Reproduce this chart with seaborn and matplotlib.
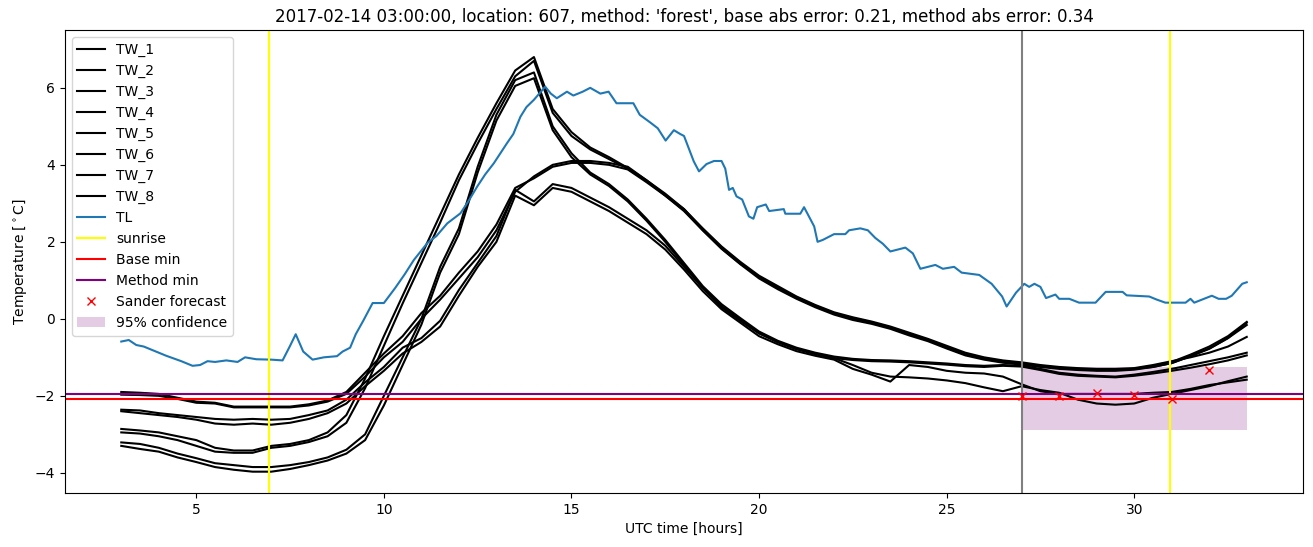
import numpy as np
import pandas as pd
import matplotlib
matplotlib.use("Agg")
import matplotlib.pyplot as plt
import seaborn as sns

# time grid (UTC hours)
hours = np.arange(3.0, 33.5, 0.5)

tw_1 = [-1.90, -1.92, -1.95, -2.05, -2.15, -2.18, -2.28, -2.28, -2.28, -2.28, -2.22, -2.12, -1.90,
        -1.40, -0.90, -0.45, 0.15, 0.60, 1.20, 1.75, 2.45, 3.40, 3.65, 3.95, 4.05, 4.05, 4.00, 3.88,
        3.55, 3.20, 2.80, 2.30, 1.83, 1.43, 1.10, 0.82, 0.56, 0.34, 0.15, 0.02, -0.09, -0.22, -0.39,
        -0.55, -0.74, -0.92, -1.03, -1.10, -1.16, -1.22, -1.27, -1.30, -1.33, -1.33, -1.30, -1.25,
        -1.15, -0.97, -0.78, -0.50, -0.10]
tw_2 = [-1.97, -1.98, -2.00, -2.08, -2.18, -2.20, -2.30, -2.30, -2.30, -2.30, -2.25, -2.15, -1.95,
        -1.50, -1.00, -0.60, 0.00, 0.50, 1.05, 1.60, 2.30, 3.30, 3.70, 4.00, 4.10, 4.10, 4.05, 3.95,
        3.60, 3.25, 2.85, 2.35, 1.88, 1.48, 1.12, 0.85, 0.58, 0.36, 0.17, 0.04, -0.07, -0.20, -0.36,
        -0.52, -0.70, -0.88, -1.00, -1.08, -1.13, -1.20, -1.25, -1.28, -1.30, -1.30, -1.28, -1.20,
        -1.10, -1.00, -0.88, -0.72, -0.47]
tw_3 = [-2.36, -2.38, -2.45, -2.50, -2.55, -2.60, -2.62, -2.60, -2.62, -2.60, -2.50, -2.38, -2.10,
        -1.65, -1.25, -0.75, -0.50, -0.05, 0.75, 1.45, 2.15, 3.35, 3.05, 3.50, 3.40, 3.15, 2.90, 2.60,
        2.30, 1.90, 1.35, 0.80, 0.30, -0.05, -0.38, -0.60, -0.78, -0.90, -1.02, -1.20, -1.40, -1.50,
        -1.52, -1.55, -1.60, -1.67, -1.78, -1.88, -1.75, -1.85, -1.92, -2.10, -2.20, -2.23, -2.20,
        -2.05, -1.95, -1.85, -1.75, -1.62, -1.50]
tw_4 = [-2.40, -2.45, -2.50, -2.55, -2.62, -2.72, -2.75, -2.72, -2.75, -2.70, -2.60, -2.45, -2.20,
        -1.75, -1.35, -0.90, -0.60, -0.20, 0.60, 1.35, 2.00, 3.20, 2.95, 3.40, 3.30, 3.05, 2.80, 2.50,
        2.20, 1.80, 1.28, 0.72, 0.25, -0.10, -0.45, -0.66, -0.84, -0.96, -1.06, -1.30, -1.45, -1.63,
        -1.20, -1.25, -1.35, -1.40, -1.42, -1.50, -1.70, -1.88, -1.95, -1.95, -1.95, -1.95, -1.95,
        -1.92, -1.90, -1.82, -1.72, -1.65, -1.58]
tw_5 = [-2.86, -2.90, -2.95, -3.05, -3.15, -3.35, -3.42, -3.42, -3.30, -3.25, -3.15, -2.95, -2.50,
        -1.55, -0.45, 0.60, 1.65, 2.70, 3.75, 4.70, 5.60, 6.45, 6.80, 5.45, 4.85, 4.45, 4.20, 3.92,
        3.60, 3.22, 2.85, 2.32, 1.85, 1.45, 1.08, 0.80, 0.55, 0.33, 0.14, 0.00, -0.10, -0.23, -0.40,
        -0.55, -0.75, -0.93, -1.04, -1.12, -1.17, -1.23, -1.28, -1.31, -1.33, -1.32, -1.30, -1.22,
        -1.12, -0.93, -0.72, -0.45, -0.08]
tw_6 = [-2.95, -2.98, -3.05, -3.15, -3.30, -3.45, -3.48, -3.48, -3.35, -3.30, -3.20, -3.05, -2.70,
        -1.80, -0.70, 0.40, 1.45, 2.50, 3.60, 4.55, 5.45, 6.30, 6.70, 5.35, 4.75, 4.40, 4.15, 3.90,
        3.58, 3.20, 2.82, 2.30, 1.82, 1.42, 1.05, 0.77, 0.52, 0.30, 0.11, -0.03, -0.13, -0.26, -0.43,
        -0.58, -0.77, -0.95, -1.06, -1.14, -1.19, -1.25, -1.30, -1.33, -1.35, -1.35, -1.32, -1.25,
        -1.15, -0.97, -0.77, -0.50, -0.16]
tw_7 = [-3.21, -3.25, -3.35, -3.50, -3.62, -3.75, -3.80, -3.85, -3.85, -3.80, -3.72, -3.60, -3.40,
        -3.00, -2.00, -1.00, 0.00, 1.35, 2.35, 3.95, 5.30, 6.20, 6.40, 5.00, 4.30, 3.80, 3.50, 3.10,
        2.60, 2.05, 1.45, 0.85, 0.38, 0.02, -0.33, -0.57, -0.75, -0.88, -0.98, -1.04, -1.07, -1.08,
        -1.10, -1.13, -1.16, -1.20, -1.22, -1.20, -1.22, -1.30, -1.40, -1.45, -1.48, -1.50, -1.45,
        -1.38, -1.30, -1.20, -1.10, -1.00, -0.88]
tw_8 = [-3.30, -3.38, -3.45, -3.60, -3.72, -3.85, -3.92, -3.97, -3.97, -3.90, -3.80, -3.68, -3.50,
        -3.15, -2.25, -1.20, -0.15, 1.20, 2.20, 3.80, 5.15, 6.05, 6.25, 4.90, 4.20, 3.75, 3.45, 3.05,
        2.55, 2.00, 1.40, 0.80, 0.33, -0.02, -0.37, -0.61, -0.79, -0.92, -1.02, -1.07, -1.10, -1.11,
        -1.13, -1.16, -1.19, -1.23, -1.25, -1.22, -1.24, -1.33, -1.43, -1.48, -1.50, -1.52, -1.48,
        -1.42, -1.35, -1.27, -1.18, -1.08, -0.95]

tl_hours = [3.0, 3.2, 3.4, 3.6, 3.8, 4.2, 4.6, 4.9, 5.1, 5.3, 5.5, 5.8, 6.1, 6.3, 6.6, 7.0, 7.3,
            7.5, 7.65, 7.85, 8.1, 8.4, 8.75, 8.9, 9.1, 9.25, 9.45, 9.7, 10.0, 10.3, 10.55, 10.8,
            11.16, 11.4, 11.69, 12.04, 12.25, 12.49, 12.7, 12.93, 13.28, 13.45, 13.64, 13.8, 14.0,
            14.3, 14.45, 14.61, 14.88, 15.05, 15.3, 15.5, 15.77, 15.99, 16.2, 16.65, 16.82, 17.1,
            17.3, 17.51, 17.73, 17.9, 18.0, 18.26, 18.4, 18.6, 18.8, 19.0, 19.1, 19.2, 19.3, 19.4,
            19.55, 19.73, 19.85, 19.95, 20.18, 20.27, 20.66, 20.7, 21.1, 21.2, 21.47, 21.56, 21.7,
            22.0, 22.3, 22.4, 22.7, 22.9, 23.1, 23.3, 23.5, 23.7, 23.9, 24.1, 24.3, 24.5, 24.7,
            24.9, 25.2, 25.4, 25.87, 26.2, 26.48, 26.6, 26.85, 27.07, 27.2, 27.34, 27.5, 27.65,
            27.9, 28.0, 28.27, 28.53, 28.97, 29.24, 29.69, 29.8, 30.4, 30.6, 30.83, 31.37, 31.5,
            31.6, 32.07, 32.25, 32.45, 32.6, 32.88, 33.0]
tl_values = [-0.59, -0.55, -0.68, -0.72, -0.80, -0.96, -1.10, -1.22, -1.20, -1.10, -1.12, -1.08,
             -1.12, -1.00, -1.05, -1.06, -1.08, -0.70, -0.40, -0.85, -1.06, -1.00, -0.97, -0.85,
             -0.75, -0.40, -0.05, 0.41, 0.41, 0.80, 1.15, 1.53, 1.97, 2.15, 2.48, 2.74, 3.05, 3.44,
             3.75, 4.04, 4.56, 4.80, 5.25, 5.50, 5.69, 6.03, 5.85, 5.73, 5.90, 5.80, 5.90, 6.00,
             5.85, 5.90, 5.60, 5.60, 5.30, 5.10, 4.95, 4.63, 4.90, 4.80, 4.75, 4.09, 3.83, 4.02,
             4.10, 4.10, 3.90, 3.35, 3.40, 3.18, 3.10, 2.66, 2.60, 2.90, 2.97, 2.80, 2.85, 2.73,
             2.73, 2.90, 2.40, 2.00, 2.05, 2.20, 2.20, 2.30, 2.35, 2.30, 2.10, 1.95, 1.75, 1.80,
             1.85, 1.70, 1.30, 1.35, 1.40, 1.30, 1.35, 1.20, 1.14, 0.91, 0.58, 0.32, 0.68, 0.91,
             0.83, 0.91, 0.83, 0.54, 0.63, 0.52, 0.52, 0.42, 0.42, 0.70, 0.70, 0.61, 0.58, 0.50,
             0.42, 0.42, 0.52, 0.42, 0.60, 0.52, 0.52, 0.60, 0.91, 0.95]

sunrise_hours = [6.95, 30.95]
forecast_start = 27.0
base_min = -2.08
method_min = -1.95
sander_hours = [27, 28, 29, 30, 31, 32]
sander_values = [-2.00, -2.00, -1.92, -1.97, -2.09, -1.34]
conf_hours = [27.0, 33.0]
conf_low = [-2.88, -2.88]
conf_high = [-1.26, -1.26]

tw_series = {"TW_1": tw_1, "TW_2": tw_2, "TW_3": tw_3, "TW_4": tw_4,
             "TW_5": tw_5, "TW_6": tw_6, "TW_7": tw_7, "TW_8": tw_8}

fig = plt.figure(figsize=(13.13, 5.47), dpi=100)
ax = fig.add_axes([0.0495, 0.099, 0.9429, 0.846])

for name, vals in tw_series.items():
    df = pd.DataFrame({"hour": hours, "value": vals})
    sns.lineplot(data=df, x="hour", y="value", ax=ax, color="black", label=name)

tl_df = pd.DataFrame({"hour": tl_hours, "value": tl_values})
sns.lineplot(data=tl_df, x="hour", y="value", ax=ax, color="#1f77b4", label="TL")

ax.axvline(sunrise_hours[0], color="yellow", label="sunrise")
ax.axvline(sunrise_hours[1], color="yellow")
ax.axvline(forecast_start, color="gray")
ax.axhline(base_min, color="red", label="Base min")
ax.axhline(method_min, color="purple", label="Method min")
ax.plot(sander_hours, sander_values, "x", color="red", label="Sander forecast")
ax.fill_between(conf_hours, conf_low, conf_high, color="purple", alpha=0.2,
                linewidth=0, label="95% confidence")

ax.set_xlim(1.5, 34.5)
ax.set_ylim(-4.52, 7.5)
ax.set_xlabel("UTC time [hours]")
ax.set_ylabel(r"Temperature [$^\circ$C]")
ax.set_title("2017-02-14 03:00:00, location: 607, method: 'forest', "
             "base abs error: 0.21, method abs error: 0.34")
ax.legend(loc="upper left")

fig.savefig("out.png", dpi=100)
